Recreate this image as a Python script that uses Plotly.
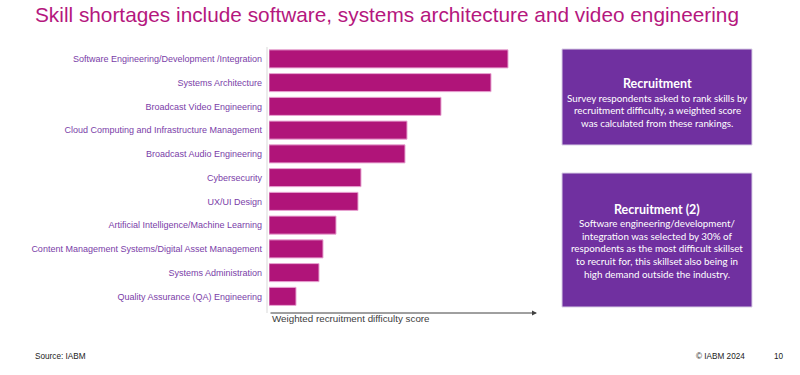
import plotly.graph_objects as go

categories = [
    "Software Engineering/Development /Integration",
    "Systems Architecture",
    "Broadcast Video Engineering",
    "Cloud Computing and Infrastructure Management",
    "Broadcast Audio Engineering",
    "Cybersecurity",
    "UX/UI Design",
    "Artificial Intelligence/Machine Learning",
    "Content Management Systems/Digital Asset Management",
    "Systems Administration",
    "Quality Assurance (QA) Engineering",
]
scores = [239, 222, 172, 138, 136, 92, 89, 67, 54, 50, 27]

title_text = "Skill shortages include software, systems architecture and video engineering"
axis_title = "Weighted recruitment difficulty score"
box1_title = "Recruitment"
box1_lines = ["Survey respondents asked to rank skills by",
              "recruitment difficulty, a weighted score",
              "was calculated from these rankings."]
box2_title = "Recruitment (2)"
box2_lines = ["Software engineering/development/",
              "integration was selected by 30% of",
              "respondents as the most difficult skillset",
              "to recruit for, this skillset also being in",
              "high demand outside the industry."]

W, H = 800, 375
L, R, T, B = 269, 537, 47, 313

BAR = "#B01479"
PURPLE_BOX = "#7030A0"
LABEL = "#7A3DA8"

fig = go.Figure(go.Bar(
    x=scores, y=categories, orientation="h",
    marker=dict(color=BAR, line=dict(color="#E9A6D3", width=1)),
    width=0.76, hoverinfo="x+y",
))

def px(x):
    return (x - L) / (R - L)

def py(y):
    return (B - y) / (B - T)

annotations = []
shapes = []

annotations.append(dict(xref="paper", yref="paper", x=px(33), y=py(14),
                        xanchor="left", yanchor="middle", showarrow=False,
                        text=title_text,
                        font=dict(family="Liberation Sans, Arial", size=20.8, color="#B5177E")))

annotations.append(dict(xref="paper", yref="paper", x=px(270), y=py(318),
                        xanchor="left", yanchor="middle", showarrow=False,
                        text=axis_title,
                        font=dict(family="Liberation Sans, Arial", size=9.8, color="#404040")))

# axis arrow
annotations.append(dict(xref="x domain", yref="y domain", x=1.0, y=0.0,
                        axref="x domain", ayref="y domain", ax=0.0, ay=0.0,
                        showarrow=True, arrowhead=2, arrowsize=1, arrowwidth=1,
                        arrowcolor="#404040", text=""))

def add_box(x0, x1, y0, y1, title, lines, title_y, line_y0, step):
    shapes.append(dict(type="rect", xref="paper", yref="paper",
                       x0=px(x0), x1=px(x1), y0=py(y0), y1=py(y1),
                       fillcolor=PURPLE_BOX, line=dict(color="#D9CFE6", width=1), layer="below"))
    cx = px((x0 + x1) / 2)
    annotations.append(dict(xref="paper", yref="paper", x=cx, y=py(title_y),
                            xanchor="center", yanchor="middle", showarrow=False,
                            text="<b>" + title + "</b>",
                            font=dict(family="Lato, Open Sans", size=12.5, color="white")))
    for i, ln in enumerate(lines):
        yy = line_y0 + i * step
        annotations.append(dict(xref="paper", yref="paper", x=cx, y=py(yy),
                                xanchor="center", yanchor="middle", showarrow=False,
                                text=ln,
                                font=dict(family="Lato, Open Sans", size=9.8, color="white")))

add_box(562, 752, 49, 145, box1_title, box1_lines, 83, 98, 12.3)
add_box(562, 752, 173, 307, box2_title, box2_lines, 209, 223, 12.7)

foot = dict(family="Liberation Sans, Arial", size=8.2, color="#222222")
annotations.append(dict(xref="paper", yref="paper", x=px(33), y=py(357),
                        xanchor="left", yanchor="middle", showarrow=False, text="Source: IABM", font=foot))
annotations.append(dict(xref="paper", yref="paper", x=px(747), y=py(357),
                        xanchor="right", yanchor="middle", showarrow=False, text="© IABM 2024", font=foot))
annotations.append(dict(xref="paper", yref="paper", x=px(786), y=py(357),
                        xanchor="right", yanchor="middle", showarrow=False, text="10", font=foot))

fig.update_layout(
    width=W, height=H,
    margin=dict(l=L, r=W - R, t=T, b=H - B, pad=0),
    paper_bgcolor="white", plot_bgcolor="white",
    showlegend=False,
    xaxis=dict(range=[0, R - L], showgrid=False, showticklabels=False, zeroline=False,
               showline=False, ticks=""),
    yaxis=dict(categoryorder="array", categoryarray=categories,
               range=[10.7, -0.5], showgrid=False, zeroline=False,
               showline=False, ticks="", ticklabelstandoff=6,
               tickfont=dict(family="Liberation Sans, Arial", size=9, color=LABEL)),
    shapes=shapes + [dict(type="line", xref="paper", yref="paper", x0=px(267), x1=px(267),
                          y0=0, y1=1, line=dict(color="#D9D9D9", width=1))],
    annotations=annotations,
)

fig.write_html("out.html", config={"displayModeBar": False},
               post_script="document.body.style.margin='0';document.body.style.overflow='hidden';")
